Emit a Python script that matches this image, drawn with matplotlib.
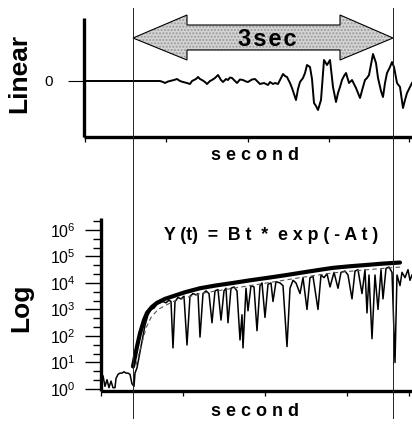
import matplotlib
matplotlib.use('Agg')
import numpy as np
import matplotlib.pyplot as plt
from matplotlib import transforms
from matplotlib.patches import Polygon
from matplotlib.lines import Line2D
from matplotlib.ticker import FixedLocator, NullFormatter, LogFormatterSciNotation

plt.rcParams['font.family'] = ['Liberation Sans', 'DejaVu Sans']
plt.rcParams['mathtext.fontset'] = 'custom'
plt.rcParams['mathtext.rm'] = 'Liberation Sans'
plt.rcParams['mathtext.default'] = 'regular'

# ---------------- data (time in samples, 260 samples = 3 s) ----------------
SAMPLES_PER_SEC = 260 / 3.0
mark_start = 0
mark_end = 3 * SAMPLES_PER_SEC

lin_t = [-49, 7, 17, 27, 30, 32, 35, 37, 41, 44, 47, 50, 54, 57, 59, 61, 63, 65,
         67, 69, 72, 74, 77, 79, 82, 85, 88, 90, 93, 95, 97, 99, 102, 104, 107,
         110, 113, 115, 119, 122, 125, 127, 131, 135, 137, 140, 142, 145, 148,
         150, 152, 154, 157, 159, 161, 163, 165, 167, 170, 172, 174, 177, 179,
         181, 183, 185, 188, 191, 194, 197, 200, 203, 205, 207, 209, 211, 213,
         216, 219, 221, 223, 227, 230, 232, 234, 236, 240, 243, 245, 248, 250,
         252, 254, 257, 259, 261, 264, 267, 270, 272, 274, 277, 279]
lin_y = [0, 0, 0, 0, -0.1, -0.2, -0.05, 0, 0.1, 0.2, 0.0, -0.1, -0.2, -0.3, 0.0,
         0.1, 0.2, 0.4, 0.2, 0.1, -0.1, -0.3, 0.0, 0.1, 0.3, 0.6, 0.1, -0.1, 0.2,
         0.1, 0.35, 0.3, 0.0, -0.2, 0.15, 0.1, -0.05, -0.1, 0.15, 0.2, -0.1, -0.3,
         -0.2, -0.4, -0.1, -0.3, -0.2, -0.3, 0.3, 0.7, 0.5, 0.4, -0.2, -0.7,
         -1.3, -1.9, -0.8, -0.1, 0.3, 0.8, 1.6, 1.4, 0.2, -2.2, -2.5, -2.9, -1.9,
         2.1, 1.6, 2.1, -0.6, -2.1, -1.2, -0.6, 0.1, 0.5, 0.8, -0.2, 0.1, -0.3,
         -0.7, -1.7, -0.6, 0.1, 0.3, 0.6, 2.7, 1.8, 0.3, -1.0, -1.6, -0.2, 0.8,
         1.4, 1.9, 1.4, -0.2, -0.6, -2.7, -1.9, -1.2, -0.6, -0.2]

log_t = [-32, -30, -28, -26, -24, -22, -20, -18, -17, -15, -13, -11, -9, -7, -5,
         -3, -1, 1, 2, 4, 6, 9, 12, 15, 18, 21, 24, 27, 30, 33, 36, 38, 40, 42,
         45, 48, 51, 54, 57, 60, 63, 65, 67, 70, 73, 76, 79, 82, 85, 88, 91, 93,
         95, 98, 101, 104, 107, 109, 110, 113, 115, 118, 121, 124, 127, 129, 132,
         135, 138, 140, 143, 147, 150, 154, 157, 160, 163, 167, 170, 174, 177,
         180, 185, 188, 191, 194, 197, 201, 205, 208, 212, 215, 219, 222, 225,
         229, 232, 234, 236, 239, 242, 245, 248, 250, 253, 256, 259, 262, 264,
         267, 269, 272, 275, 277, 279]
log_exp = [0.1, 0.5, 0.1, 0.35, 0.05, 0.3, 0.05, 0.05, 0.4, 0.55, 0.6, 0.6, 0.65,
           0.6, 0.6, 0.55, 0.2, 0.1, 0.6, 0.8, 1.2, 1.8, 2.4, 2.8, 3.0, 3.05, 3.2,
           3.25, 3.3, 3.25, 3.35, 3.3, 1.55, 3.3, 3.45, 3.4, 3.5, 1.66, 3.5, 3.6,
           3.55, 3.6, 1.96, 3.6, 3.7, 3.6, 2.5, 3.7, 3.75, 2.6, 3.7, 3.8, 2.5, 3.8,
           3.85, 3.7, 1.85, 2.8, 1.55, 3.8, 2.95, 3.9, 3.85, 2.2, 3.9, 4.0, 2.7,
           3.95, 4.0, 3.3, 4.05, 4.0, 3.9, 1.6, 3.8, 4.1, 4.0, 3.6, 4.2, 3.0, 4.2,
           4.25, 3.0, 4.3, 4.2, 4.35, 3.85, 4.4, 3.8, 4.4, 4.45, 4.3, 3.4, 4.45,
           4.5, 3.6, 4.5, 2.87, 4.3, 1.9, 4.3, 3.0, 4.5, 3.4, 4.55, 4.6, 4.4, 1.0,
           4.3, 3.9, 4.4, 4.2, 4.5, 4.1, 4.3]

fit_t = [0, 4, 7, 11, 14, 19, 24, 32, 40, 52, 67, 82, 100, 117, 134, 152, 167,
         184, 200, 217, 234, 250, 267]
fit_exp = [0.85, 1.6, 2.1, 2.6, 2.87, 3.1, 3.25, 3.4, 3.5, 3.65, 3.8, 3.9, 4.0,
           4.1, 4.19, 4.29, 4.38, 4.48, 4.57, 4.63, 4.68, 4.73, 4.77]

dash_t = [3, 8, 13, 18, 25, 40, 67, 100, 134, 167, 200, 234, 267]
dash_exp = [0.9, 1.6, 2.3, 2.7, 3.0, 3.3, 3.6, 3.8, 4.0, 4.2, 4.38, 4.5, 4.6]

top_xticks = [-48, 33, 115, 196, 276]
bot_xticks = [-32, 50, 132, 214, 276]
log_major = [0, 1, 2, 3, 4, 5, 6]

# ---------------- figure ----------------
W, H = 412, 425
fig = plt.figure(figsize=(W / 100, H / 100), dpi=100)
ax1 = fig.add_axes([84 / W, 1 - 137 / H, 328 / W, 119 / H])
ax2 = fig.add_axes([101 / W, 1 - 391 / H, 311 / W, 173 / H])

for ax in (ax1, ax2):
    ax.set_facecolor('none')
    for s in ('top', 'right'):
        ax.spines[s].set_visible(False)
    for s in ('left', 'bottom'):
        ax.spines[s].set_linewidth(2.4)
        ax.spines[s].set_capstyle('butt')

# top linear panel
ax1.plot(lin_t, lin_y, color='black', lw=1.4)
ax1.set_xlim(-49, 279)
ax1.set_ylim(-5.6, 6.3)
ax1.set_yticks([0])
ax1.set_yticklabels(['0'])
ax1.tick_params(axis='y', length=11.5, width=0.8, pad=11, labelsize=11)
ax1.set_xticks(top_xticks)
ax1.set_xticklabels([])
ax1.tick_params(axis='x', length=3.5, width=0.9, direction='out')

# bottom log panel
ax2.plot(log_t, np.power(10.0, log_exp), color='black', lw=1.1)
ax2.plot(dash_t, np.power(10.0, dash_exp), color='#555555', lw=0.8, ls=(0, (4, 3)))
ax2.plot(fit_t, np.power(10.0, fit_exp), color='black', lw=3.0,
         solid_capstyle='round')
ax2.set_yscale('log')
ax2.set_xlim(-32, 279)
ax2.set_ylim(10 ** -0.075, 10 ** 6.45)
ax2.yaxis.set_major_locator(FixedLocator([10.0 ** k for k in log_major]))
ax2.yaxis.set_major_formatter(LogFormatterSciNotation())
minors = [10.0 ** (k + f) for k in range(-1, 7) for f in (1 / 3, 2 / 3)]
ax2.yaxis.set_minor_locator(FixedLocator(minors))
ax2.yaxis.set_minor_formatter(NullFormatter())
ax2.tick_params(axis='y', which='major', length=11.5, width=1.0, pad=7,
                labelsize=11.5)
ax2.tick_params(axis='y', which='minor', length=5.5, width=1.0)
ax2.set_xticks(bot_xticks)
ax2.set_xticklabels([])
ax2.tick_params(axis='x', length=3.5, width=0.9, direction='out')

# vertical marker lines spanning the figure
vtrans = transforms.blended_transform_factory(ax2.transData, fig.transFigure)
for xv in (mark_start, mark_end):
    fig.add_artist(Line2D([xv, xv], [1 - 418 / H, 1 - 8 / H], transform=vtrans,
                          color='#222222', lw=0.7))

# double arrow "3sec"
atrans = transforms.blended_transform_factory(ax1.transData, fig.transFigure)
yc, hy1, hy0, by1, by0 = 1 - 38 / H, 1 - 15 / H, 1 - 60 / H, 1 - 25 / H, 1 - 50 / H
xl, xr = mark_start + 54, mark_end - 53
verts = [(mark_start, yc), (xl, hy1), (xl, by1), (xr, by1), (xr, hy1),
         (mark_end, yc), (xr, hy0), (xr, by0), (xl, by0), (xl, hy0)]
fig.add_artist(Polygon(verts, closed=True, transform=atrans, facecolor='#d4d4d4',
                       edgecolor='#9a9a9a', hatch='.....', lw=0))
fig.add_artist(Polygon(verts, closed=True, transform=atrans, facecolor='none',
                       edgecolor='black', lw=0.8))
fig.text((mark_start + mark_end) / 2 + 4, yc - 0.004, '3\u200as\u200ae\u200ac',
         transform=atrans, fontsize=17, fontweight='bold', ha='center',
         va='center')

# labels
fig.text(19 / W, 1 - 73 / H, 'Linear', rotation=90, fontsize=19,
         fontweight='bold', ha='center', va='center')
fig.text(21.5 / W, 1 - 308 / H, 'Log', rotation=90, fontsize=19,
         fontweight='bold', ha='center', va='center')
fig.text(255 / W, 1 - 156 / H, 's e c o n d', fontsize=13, fontweight='bold',
         ha='center', va='center')
fig.text(255 / W, 1 - 411 / H, 's e c o n d', fontsize=13, fontweight='bold',
         ha='center', va='center')
fig.text(271 / W, 1 - 236 / H, 'Y (t)  =  B t  *  e x p ( - A t )', fontsize=12.8,
         fontweight='bold', ha='center', va='center')

fig.savefig('out.png', dpi=100)
